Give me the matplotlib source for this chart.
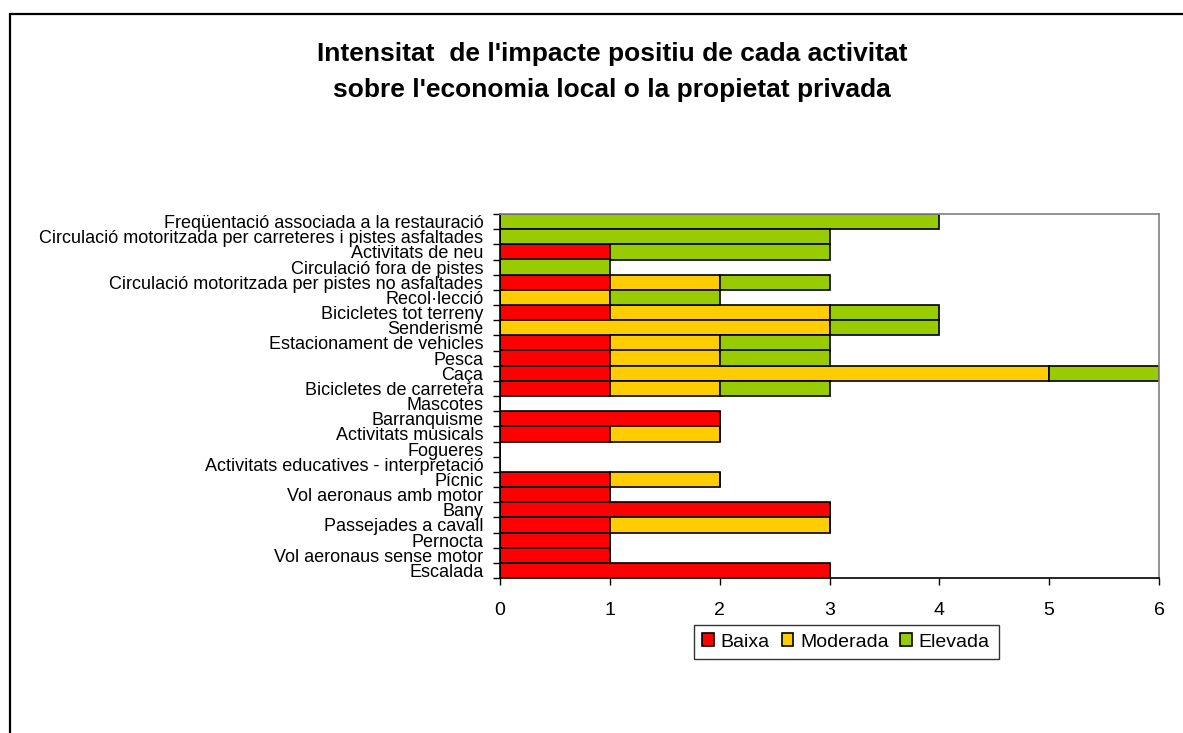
import matplotlib
matplotlib.use("Agg")
import matplotlib.pyplot as plt
from matplotlib.patches import Rectangle
import numpy as np

plt.rcParams['font.family'] = ['Liberation Sans', 'DejaVu Sans']

categories = [
    "Freqüentació associada a la restauració",
    "Circulació motoritzada per carreteres i pistes asfaltades",
    "Activitats de neu",
    "Circulació fora de pistes",
    "Circulació motoritzada per pistes no asfaltades",
    "Recol·lecció",
    "Bicicletes tot terreny",
    "Senderisme",
    "Estacionament de vehicles",
    "Pesca",
    "Caça",
    "Bicicletes de carretera",
    "Mascotes",
    "Barranquisme",
    "Activitats musicals",
    "Fogueres",
    "Activitats educatives - interpretació",
    "Pícnic",
    "Vol aeronaus amb motor",
    "Bany",
    "Passejades a cavall",
    "Pernocta",
    "Vol aeronaus sense motor",
    "Escalada",
]
baixa    = [0, 0, 1, 0, 1, 0, 1, 0, 1, 1, 1, 1, 0, 2, 1, 0, 0, 1, 1, 3, 1, 1, 1, 3]
moderada = [0, 0, 0, 0, 1, 1, 2, 3, 1, 1, 4, 1, 0, 0, 1, 0, 0, 1, 0, 0, 2, 0, 0, 0]
elevada  = [4, 3, 2, 1, 1, 1, 1, 1, 1, 1, 1, 1, 0, 0, 0, 0, 0, 0, 0, 0, 0, 0, 0, 0]
series_names = ["Baixa", "Moderada", "Elevada"]
colors = ["#FF0000", "#FFCC00", "#99CC00"]
title = "Intensitat  de l'impacte positiu de cada activitat\nsobre l'economia local o la propietat privada"

W, H = 1183, 733
fig = plt.figure(figsize=(W / 100, H / 100), dpi=100)
fig.patch.set_facecolor("white")

# outer chart border
fig.add_artist(Rectangle((9.5 / W, -0.05), 1.2, 1 - 14 / H + 0.05, transform=fig.transFigure,
                         fill=False, edgecolor="black", linewidth=1.6))

ax = fig.add_axes([500 / W, 1 - 578 / H, 659 / W, 364 / H])
n = len(categories)
y = np.arange(n)[::-1]
left = np.zeros(n)
for vals, name, c in zip([baixa, moderada, elevada], series_names, colors):
    v = np.array(vals, dtype=float)
    ax.barh(y, v, left=left, height=1.0, color=c, edgecolor="black", linewidth=1.2, label=name)
    left += v

ax.set_xlim(0, 6)
ax.set_ylim(-0.5, n - 0.5)
ax.set_xticks(range(7))
ax.tick_params(axis="x", labelsize=14, length=5, width=1, direction="out", pad=12)
ax.set_yticks(y)
ax.set_yticklabels(categories, fontsize=13)
ax.tick_params(axis="y", length=0, pad=12)
# category boundary ticks
ax.set_yticks(np.arange(-0.5, n, 1.0), minor=True)
ax.tick_params(axis="y", which="minor", length=5, width=1, direction="out")
for s in ["top", "right"]:
    ax.spines[s].set_color("#808080")
    ax.spines[s].set_linewidth(1.2)
for s in ["left", "bottom"]:
    ax.spines[s].set_color("black")
    ax.spines[s].set_linewidth(1.2)

fig.text(612 / W, 1 - 72 / H, title, ha="center", va="center", fontsize=19,
         fontweight="bold", linespacing=1.6)

leg = fig.legend(loc="center", bbox_to_anchor=(846 / W, 1 - 642 / H), ncol=3,
                 fontsize=14, frameon=True, fancybox=False, edgecolor="black",
                 handlelength=0.6, handleheight=0.6, handletextpad=0.35,
                 columnspacing=0.6, borderpad=0.45)
leg.get_frame().set_linewidth(1.0)

fig.savefig("out.png", dpi=100, facecolor="white")
